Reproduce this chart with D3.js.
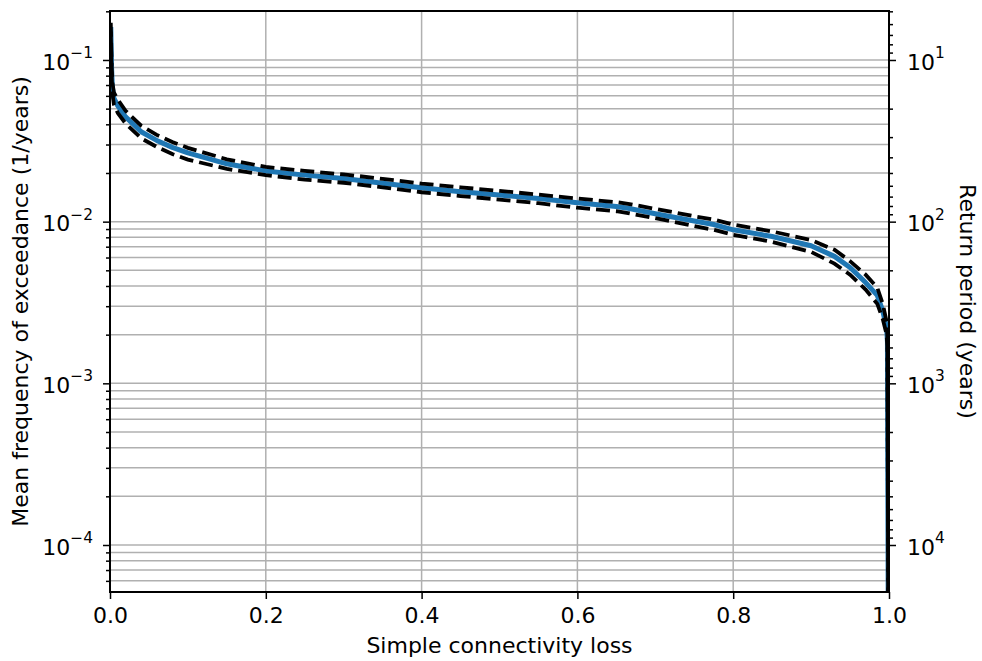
<!DOCTYPE html>
<html>
<head>
<meta charset="utf-8">
<script src="https://cdn.jsdelivr.net/npm/d3@7"></script>
<style>
  body { margin: 0; background: #fff; }
  svg { font-family: "DejaVu Sans", sans-serif; }
  .tick line { stroke: #000; stroke-width: 1.5; }
  .domain { display: none; }
</style>
</head>
<body>
<svg id="chart" width="982" height="661"></svg>
<script>
// connectivity loss values along the curve
const lossValues = [0.001, 0.002, 0.003, 0.005, 0.01, 0.02, 0.04, 0.06, 0.08, 0.1,
  0.15, 0.2, 0.25, 0.3, 0.35, 0.4, 0.45, 0.5, 0.55, 0.6,
  0.65, 0.665, 0.7, 0.75, 0.775, 0.8, 0.85, 0.9, 0.93, 0.95,
  0.97, 0.985, 0.992, 0.997, 0.998, 0.999];
// mean frequency of exceedance (1/years)
const meanFreq = [0.16, 0.09, 0.068, 0.058, 0.052, 0.0445, 0.036, 0.0318, 0.0288, 0.0266,
  0.0228, 0.0206, 0.0194, 0.0185, 0.0173, 0.0162, 0.0153, 0.0146, 0.0139, 0.0131,
  0.0124, 0.0121, 0.0112, 0.0101, 0.0096, 0.0089, 0.0081, 0.0071, 0.0061, 0.0052,
  0.0042, 0.0035, 0.0028, 0.0022, 0.0018, 0.00004];
const upperFreq = [0.17, 0.096, 0.073, 0.063, 0.057, 0.0485, 0.0392, 0.0344, 0.0311, 0.0286,
  0.0243, 0.0218, 0.0206, 0.0196, 0.0184, 0.0172, 0.0163, 0.0155, 0.0147, 0.0139,
  0.0132, 0.0129, 0.0120, 0.0108, 0.0103, 0.0096, 0.0087, 0.0077, 0.0067, 0.0057,
  0.0047, 0.0039, 0.0031, 0.0024, 0.0019, 0.00004];
const lowerFreq = [0.15, 0.084, 0.063, 0.053, 0.047, 0.0405, 0.0328, 0.0290, 0.0262, 0.0242,
  0.0212, 0.0194, 0.0182, 0.0174, 0.0163, 0.0152, 0.0144, 0.0137, 0.0130, 0.0122,
  0.0116, 0.0113, 0.0105, 0.0094, 0.0089, 0.0083, 0.0075, 0.0065, 0.0055, 0.0047,
  0.0038, 0.0031, 0.0025, 0.0020, 0.0016, 0.00004];

const xTicks = [0, 0.2, 0.4, 0.6, 0.8, 1.0];
const freqMajor = [1e-4, 1e-3, 1e-2, 1e-1];
const freqExp = [-4, -3, -2, -1];
const periodMajor = [1e1, 1e2, 1e3, 1e4];
const periodExp = [1, 2, 3, 4];

const margin = { left: 110, right: 889, top: 11, bottom: 592 };
const fontSize = 22;

const svg = d3.select("#chart");

const x = d3.scaleLinear().domain([0, 1]).range([margin.left, margin.right]);
const y = d3.scaleLog().domain([5.12e-5, 0.2009]).range([margin.bottom, margin.top]);
const yRight = d3.scaleLog().domain([1 / 5.12e-5, 1 / 0.2009]).range([margin.bottom, margin.top]);

function minorTicks(scale) {
  const [a, b] = scale.domain().slice().sort((p, q) => p - q);
  const out = [];
  for (let e = Math.floor(Math.log10(a)); e <= Math.ceil(Math.log10(b)); e++) {
    for (let k = 2; k <= 9; k++) {
      const v = k * Math.pow(10, e);
      if (v >= a && v <= b) out.push(v);
    }
  }
  return out;
}

const freqMinor = minorTicks(y);
const periodMinor = minorTicks(yRight);

// grid
const grid = svg.append("g").attr("stroke", "#b0b0b0").attr("stroke-width", 1.5);
grid.selectAll(".hgrid")
  .data(freqMajor.concat(freqMinor))
  .enter().append("line")
  .attr("x1", margin.left).attr("x2", margin.right)
  .attr("y1", d => y(d)).attr("y2", d => y(d));
grid.selectAll(".vgrid")
  .data(xTicks.slice(1, -1))
  .enter().append("line")
  .attr("y1", margin.top).attr("y2", margin.bottom)
  .attr("x1", d => x(d)).attr("x2", d => x(d));

// curves
svg.append("clipPath").attr("id", "clip")
  .append("rect")
  .attr("x", margin.left).attr("y", margin.top)
  .attr("width", margin.right - margin.left).attr("height", margin.bottom - margin.top);

const plot = svg.append("g").attr("clip-path", "url(#clip)");

function curve(vals) {
  return d3.line().x((d, i) => x(lossValues[i])).y(d => y(d))(vals);
}

plot.append("path").attr("d", curve(meanFreq))
  .attr("fill", "none").attr("stroke", "#1f77b4").attr("stroke-width", 5)
  .attr("stroke-linejoin", "round");
[upperFreq, lowerFreq].forEach(vals => {
  plot.append("path").attr("d", curve(vals))
    .attr("fill", "none").attr("stroke", "#000").attr("stroke-width", 3.8)
    .attr("stroke-dasharray", "14,6");
});

// axes
const xAxis = svg.append("g").attr("transform", `translate(0,${margin.bottom})`)
  .call(d3.axisBottom(x).tickValues(xTicks).tickSize(7).tickPadding(8).tickFormat(d3.format(".1f")));
xAxis.selectAll("text").attr("font-size", fontSize).attr("fill", "#000")
  .attr("font-family", "DejaVu Sans");

svg.append("g").attr("transform", `translate(${margin.left},0)`)
  .call(d3.axisLeft(y).tickValues(freqMajor).tickSize(7).tickFormat(() => ""));
svg.append("g").attr("transform", `translate(${margin.left},0)`)
  .call(d3.axisLeft(y).tickValues(freqMinor).tickSize(4).tickFormat(() => ""));

svg.append("g").attr("transform", `translate(${margin.right},0)`)
  .call(d3.axisRight(yRight).tickValues(periodMajor).tickSize(7).tickFormat(() => ""));
svg.append("g").attr("transform", `translate(${margin.right},0)`)
  .call(d3.axisRight(yRight).tickValues(periodMinor).tickSize(4).tickFormat(() => ""));

function powerLabel(g, exp, anchor) {
  const t = g.append("text").attr("font-size", fontSize).attr("text-anchor", anchor)
    .attr("dy", "0.35em");
  t.append("tspan").text("10");
  t.append("tspan").attr("font-size", fontSize * 0.7).attr("dy", "-0.75em")
    .text(exp < 0 ? "\u2212" + (-exp) : String(exp));
  return t;
}

freqMajor.forEach((v, i) => {
  const g = svg.append("g").attr("transform", `translate(${margin.left - 17},${y(v) + 2})`);
  powerLabel(g, freqExp[i], "end");
});
periodMajor.forEach((v, i) => {
  const g = svg.append("g").attr("transform", `translate(${margin.right + 18},${yRight(v) + 2})`);
  powerLabel(g, periodExp[i], "start");
});

// spines
svg.append("rect")
  .attr("x", margin.left).attr("y", margin.top)
  .attr("width", margin.right - margin.left).attr("height", margin.bottom - margin.top)
  .attr("fill", "none").attr("stroke", "#000").attr("stroke-width", 2);

// axis titles
svg.append("text").attr("x", (margin.left + margin.right) / 2).attr("y", 653)
  .attr("text-anchor", "middle").attr("font-size", fontSize)
  .text("Simple connectivity loss");
svg.append("text")
  .attr("transform", `translate(28,${(margin.top + margin.bottom) / 2}) rotate(-90)`)
  .attr("text-anchor", "middle").attr("font-size", fontSize)
  .text("Mean frequency of exceedance (1/years)");
svg.append("text")
  .attr("transform", `translate(960,${(margin.top + margin.bottom) / 2}) rotate(90)`)
  .attr("text-anchor", "middle").attr("font-size", fontSize)
  .text("Return period (years)");
</script>
</body>
</html>
